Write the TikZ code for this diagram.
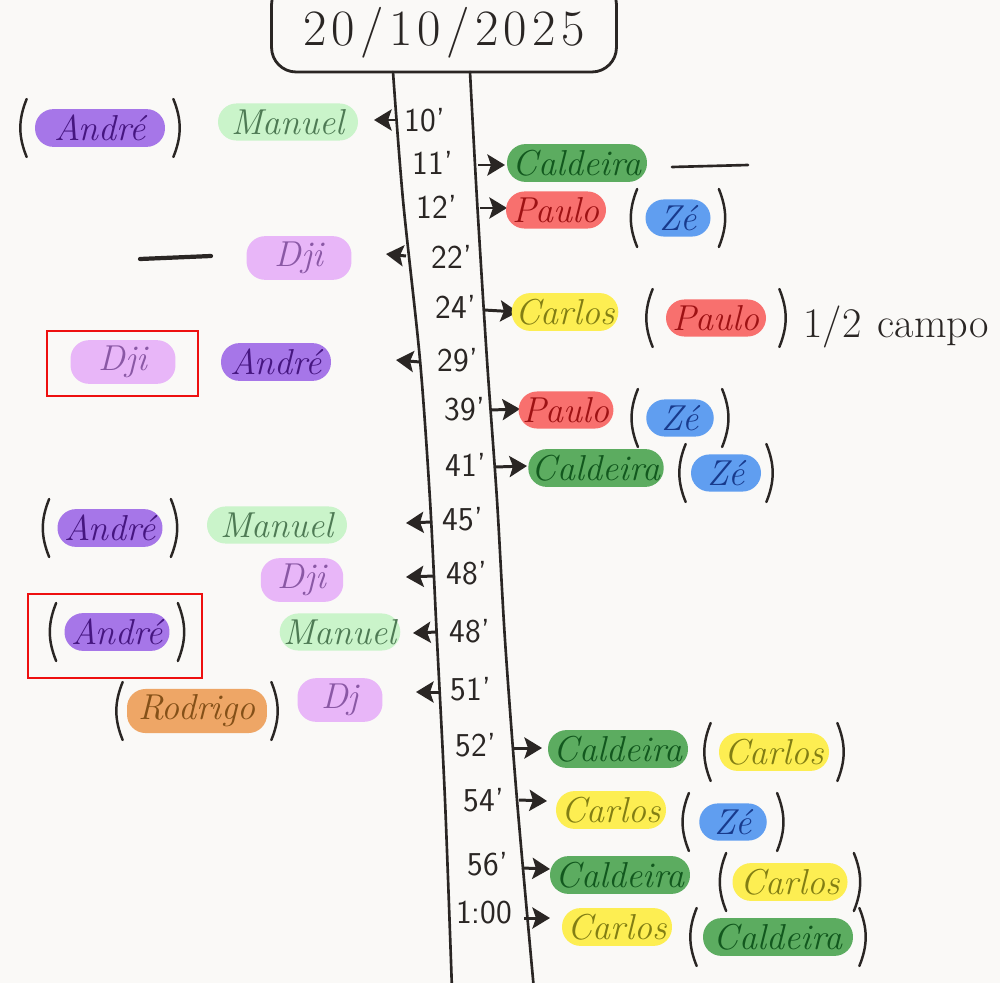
\documentclass[tikz,border=0pt]{standalone}
\usepackage{fontspec}
\usetikzlibrary{arrows.meta,calc}
\definecolor{paper}{RGB}{250,249,247}
\definecolor{ink}{RGB}{42,38,36}
\definecolor{andreF}{RGB}{166,118,232}\definecolor{andreT}{RGB}{70,22,128}
\definecolor{manuelF}{RGB}{202,244,202}\definecolor{manuelT}{RGB}{78,122,84}
\definecolor{caldF}{RGB}{92,172,96}\definecolor{caldT}{RGB}{18,88,30}
\definecolor{pauloF}{RGB}{248,112,110}\definecolor{pauloT}{RGB}{158,18,20}
\definecolor{zeF}{RGB}{96,158,240}\definecolor{zeT}{RGB}{24,58,140}
\definecolor{djiF}{RGB}{232,182,248}\definecolor{djiT}{RGB}{138,88,165}
\definecolor{carlosF}{RGB}{253,238,82}\definecolor{carlosT}{RGB}{130,126,20}
\definecolor{rodF}{RGB}{238,166,102}\definecolor{rodT}{RGB}{132,80,24}
\definecolor{redbox}{RGB}{238,16,16}
\tikzset{
  pill/.style={rounded corners=0.37cm, minimum height=0.74cm, inner xsep=2pt,
    font=\fontsize{20.5}{22}\selectfont\itshape},
  andre/.style={pill, fill=andreF, text=andreT},
  manuel/.style={pill, fill=manuelF, text=manuelT},
  cald/.style={pill, fill=caldF, text=caldT},
  paulo/.style={pill, fill=pauloF, text=pauloT},
  ze/.style={pill, fill=zeF, text=zeT},
  dji/.style={pill, fill=djiF, text=djiT},
  carlos/.style={pill, fill=carlosF, text=carlosT},
  rod/.style={pill, fill=rodF, text=rodT},
  tlabel/.style={font=\fontsize{19}{20}\selectfont\sffamily, text=ink, inner sep=1pt},
  evarrow/.style={draw=ink, line width=1.7pt, -{Stealth[length=10pt,width=12pt,inset=2pt]}},
  paren/.style={draw=ink, line width=1.4pt, line cap=round},
  hand/.style={draw=ink, line width=1.5pt, line cap=round},
  redframe/.style={draw=redbox, line width=1.4pt}
}
\newcommand\putparens[2]{%
  \draw[paren] ($(#1.west)+(-#2,-29)$) to[bend right=22] ($(#1.west)+(-#2,29)$);
  \draw[paren] ($(#1.east)+(#2,-29)$) to[bend left=22] ($(#1.east)+(#2,29)$);}
\newcommand\gp{\kern3pt}
\begin{document}
\begin{tikzpicture}[x=0.02cm, y=-0.02cm]
\fill[paper] (0,0) rectangle (1000,983);
\useasboundingbox (0,0) rectangle (1000,983);

% title
\node[draw=ink, line width=1.6pt, rounded corners=14pt, minimum width=6.9cm,
  minimum height=1.84cm, text=ink, text depth=0pt,
  font=\fontsize{29}{30}\selectfont] (date) at (444,26) {2\gp0\gp/\gp1\gp0\gp/\gp2\gp0\gp2\gp5};

% timeline
\draw[hand] plot[smooth] coordinates {(393,72) (403,200) (420,360) (430,500) (437,640) (445,800) (452,990)};
\draw[hand] plot[smooth] coordinates {(470,72) (477,200) (487,360) (497,500) (505,640) (517,800) (534,990)};

% time labels
\node[tlabel] (m10) at (425,120) {10'};
\node[tlabel] (m11) at (433,163) {11'};
\node[tlabel] (m12) at (437,207) {12'};
\node[tlabel] (m22) at (452,257) {22'};
\node[tlabel] (m24) at (456,307) {24'};
\node[tlabel] (m29) at (458,360) {29'};
\node[tlabel] (m39) at (465,409) {39'};
\node[tlabel] (m41) at (466,465) {41'};
\node[tlabel] (m45) at (463,519) {45'};
\node[tlabel] (m48a) at (467,573) {48'};
\node[tlabel] (m48b) at (470,631) {48'};
\node[tlabel] (m51) at (471,689) {51'};
\node[tlabel] (m52) at (476,745) {52'};
\node[tlabel] (m54) at (484,800) {54'};
\node[tlabel] (m56) at (488,864) {56'};
\node[tlabel] (m100) at (484,913) {1:00};

% arrow end points
\coordinate (s10) at (397,120); \coordinate (e10) at (374,120);
\coordinate (s11) at (478,165); \coordinate (e11) at (505,165);
\coordinate (s12) at (480,208); \coordinate (e12) at (507,208);
\coordinate (s22) at (406,256); \coordinate (e22) at (386,254);
\coordinate (s24) at (484,310); \coordinate (e24) at (518,312);
\coordinate (s29) at (420,362); \coordinate (e29) at (396,360);
\coordinate (s39) at (491,410); \coordinate (e39) at (520,409);
\coordinate (s41) at (495,467); \coordinate (e41) at (527,466);
\coordinate (s45) at (432,522); \coordinate (e45) at (406,523);
\coordinate (s48a) at (434,576); \coordinate (e48a) at (406,577);
\coordinate (s48b) at (437,632); \coordinate (e48b) at (413,633);
\coordinate (s51) at (440,692); \coordinate (e51) at (416,692);
\coordinate (s52) at (513,748); \coordinate (e52) at (542,748);
\coordinate (s54) at (519,800); \coordinate (e54) at (547,801);
\coordinate (s56) at (522,868); \coordinate (e56) at (550,869);
\coordinate (s100) at (524,918); \coordinate (e100) at (550,918);
\foreach \k in {10,11,12,22,24,29,39,41,45,48a,48b,51,52,54,56,100}
  \draw[evarrow] (s\k) -- (e\k);

% names
\node[manuel, minimum width=2.8cm] (n10a) at (288,122) {Manuel};
\node[andre, minimum width=2.6cm] (n10b) at (100,128) {André};
\putparens{n10b}{8}

\node[cald, minimum width=2.8cm] (n11) at (577,163) {Caldeira};
\coordinate (d11a) at (672,167); \coordinate (d11b) at (748,165);
\draw[hand] (d11a) -- (d11b);

\node[paulo, minimum width=2.0cm] (n12) at (556,210) {Paulo};
\node[ze, minimum width=1.3cm] (n12z) at (678,218) {Zé};
\putparens{n12z}{8}

\node[dji, minimum width=2.1cm] (n22) at (299,258) {Dji};
\coordinate (d22a) at (140,259); \coordinate (d22b) at (211,256);
\draw[hand, line width=2.4pt] (d22a) -- (d22b);

\node[carlos, minimum width=1.9cm] (n24) at (565,312) {Carlos};
\node[paulo, minimum width=2.0cm] (n24p) at (716,318) {Paulo};
\putparens{n24p}{13}
\node[font=\fontsize{24}{26}\selectfont, text=ink] (campo) at (896,327) {1/2\kern2pt\ campo};

\node[andre, minimum width=2.2cm] (n29a) at (276,362) {André};
\node[dji, minimum width=2.1cm] (n29b) at (123,362) {Dji};
\draw[redframe] (47,331) rectangle (198,396);

\node[paulo, minimum width=1.65cm] (n39) at (566,410) {Paulo};
\node[ze, minimum width=1.35cm] (n39z) at (680,418) {Zé};
\putparens{n39z}{8}

\node[cald, minimum width=2.6cm] (n41) at (596,468) {Caldeira};
\node[ze, minimum width=1.4cm] (n41z) at (726,473) {Zé};
\putparens{n41z}{5}

\node[manuel, minimum width=2.8cm] (n45a) at (277,525) {Manuel};
\node[andre, minimum width=2.1cm] (n45b) at (110,528) {André};
\putparens{n45b}{8}

\node[dji, minimum width=1.65cm] (n48a) at (302,580) {Dji};

\node[manuel, minimum width=2.4cm] (n48b) at (340,632) {Manuel};
\node[andre, minimum width=2.1cm] (n48c) at (117,632) {André};
\putparens{n48c}{8}
\draw[redframe] (28,594) rectangle (202,678);

\node[dji, minimum width=1.7cm] (n51a) at (340,700) {Dj};
\node[rod, minimum width=2.8cm] (n51b) at (197,711) {Rodrigo};
\putparens{n51b}{4}

\node[cald, minimum width=2.8cm] (n52) at (618,749) {Caldeira};
\node[carlos, minimum width=2.2cm] (n52c) at (774,752) {Carlos};
\putparens{n52c}{8}

\node[carlos, minimum width=2.2cm] (n54) at (611,810) {Carlos};
\node[ze, minimum width=1.35cm] (n54z) at (733,822) {Zé};
\putparens{n54z}{10}

\node[cald, minimum width=2.8cm] (n56) at (620,875) {Caldeira};
\node[carlos, minimum width=2.3cm] (n56c) at (790,882) {Carlos};
\putparens{n56c}{6}

\node[carlos, minimum width=2.2cm] (n100) at (617,927) {Carlos};
\node[cald, minimum width=3.0cm] (n100c) at (778,937) {Caldeira};
\putparens{n100c}{6}
\end{tikzpicture}
\end{document}
